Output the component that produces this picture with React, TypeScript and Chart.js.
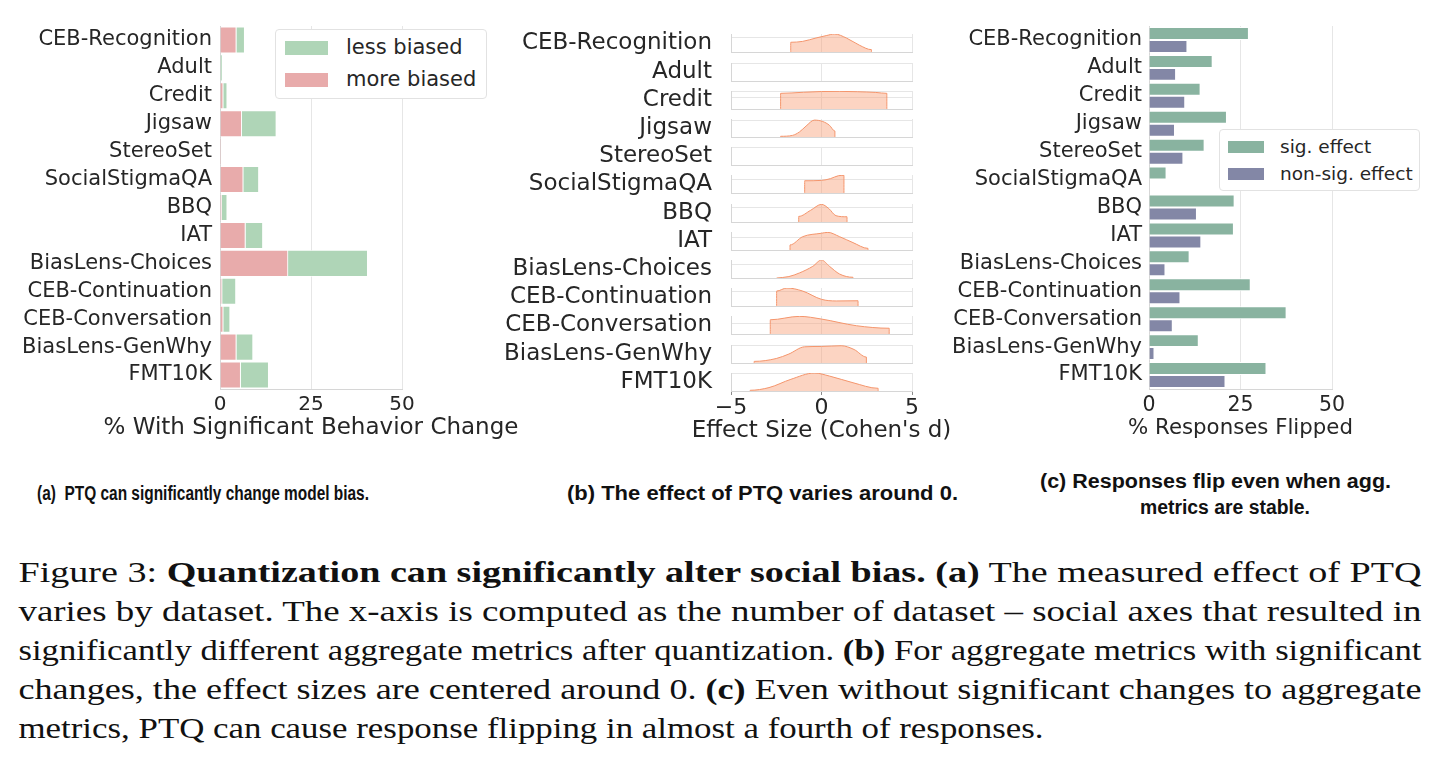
import React, { useEffect, useRef } from "react";
import { Chart, registerables } from "chart.js";

Chart.register(...registerables);

// ---------- data ----------
const datasetNames = [
  "CEB-Recognition",
  "Adult",
  "Credit",
  "Jigsaw",
  "StereoSet",
  "SocialStigmaQA",
  "BBQ",
  "IAT",
  "BiasLens-Choices",
  "CEB-Continuation",
  "CEB-Conversation",
  "BiasLens-GenWhy",
  "FMT10K",
];

// (a) % of dataset – social axes with a significant behaviour change
const moreBiased = [4.5, 0, 0.9, 6.0, 0.4, 6.4, 0.55, 7.0, 18.7, 0.6, 0.9, 4.5, 5.7];
const lessBiased = [2.3, 0.7, 1.1, 9.5, 0, 4.3, 1.45, 4.8, 21.9, 3.8, 1.9, 4.6, 7.7];

// (c) % responses flipped
const sigEffect = [27.3, 17.4, 14.1, 21.3, 15.2, 4.8, 23.4, 23.2, 11.1, 27.8, 37.6, 13.6, 32.1];
const nonSigEffect = [10.5, 7.4, 9.9, 7.1, 9.4, 0, 13.1, 14.3, 4.5, 8.6, 6.5, 1.5, 20.9];

// (b) effect-size densities: [Cohen's d, density relative to the row's axis]
const ridgeCEBRecognition = [[-1.7, 0], [-1.7, 0.54], [-1.04, 0.59], [-0.3, 0.78], [0.26, 0.91], [0.72, 1.0], [1.37, 0.78], [2.11, 0.37], [2.76, 0.13], [2.76, 0]];
const ridgeAdult: number[][] = [];
const ridgeCredit = [[-2.26, 0], [-2.26, 0.87], [-1.0, 0.93], [0, 0.97], [1.0, 0.98], [2.0, 0.96], [3.0, 0.92], [3.61, 0.87], [3.61, 0]];
const ridgeJigsaw = [[-2.26, 0], [-2.26, 0.04], [-1.6, 0.09], [-1.22, 0.28], [-0.85, 0.61], [-0.39, 0.94], [0.07, 0.86], [0.44, 0.65], [0.74, 0.33], [0.74, 0]];
const ridgeStereoSet: number[][] = [];
const ridgeSocialStigmaQA = [[-0.93, 0], [-0.93, 0.68], [0, 0.7], [0.5, 0.8], [0.93, 0.96], [1.24, 0.98], [1.24, 0]];
const ridgeBBQ = [[-1.26, 0], [-1.26, 0.31], [-0.6, 0.65], [0, 0.98], [0.4, 0.75], [0.8, 0.35], [1.41, 0.29], [1.41, 0]];
const ridgeIAT = [[-1.74, 0], [-1.74, 0.28], [-1.04, 0.74], [0, 0.93], [0.35, 0.98], [1.0, 0.74], [1.74, 0.41], [2.57, 0.09], [2.57, 0]];
const ridgeBiasLensChoices = [[-2.48, 0], [-1.8, 0.08], [-1.22, 0.28], [-0.48, 0.65], [0, 1.0], [0.44, 0.65], [1.0, 0.22], [1.74, 0.04], [1.74, 0]];
const ridgeCEBContinuation = [[-2.48, 0], [-2.48, 0.83], [-1.91, 1.0], [-1.04, 0.83], [0, 0.37], [0.81, 0.28], [2.02, 0.29], [2.02, 0]];
const ridgeCEBConversation = [[-2.83, 0], [-2.83, 0.79], [-1.22, 0.98], [0, 0.83], [1.93, 0.46], [3.74, 0.32], [3.74, 0]];
const ridgeBiasLensGenWhy = [[-3.72, 0], [-3.72, 0.09], [-2.5, 0.25], [-1.8, 0.5], [-0.94, 0.9], [0, 0.92], [1.09, 0.96], [1.8, 0.75], [2.48, 0.33], [2.48, 0]];
const ridgeFMT10K = [[-3.94, 0], [-3.94, 0.04], [-2.9, 0.19], [-1.69, 0.65], [-0.39, 1.0], [0.44, 0.83], [1.74, 0.46], [3.13, 0.15], [3.13, 0]];

const ridgeCurves = [
  ridgeCEBRecognition, ridgeAdult, ridgeCredit, ridgeJigsaw, ridgeStereoSet,
  ridgeSocialStigmaQA, ridgeBBQ, ridgeIAT, ridgeBiasLensChoices,
  ridgeCEBContinuation, ridgeCEBConversation, ridgeBiasLensGenWhy, ridgeFMT10K,
];
const ridgeGridTicks = [
  [0, 0.83], [0, 1], [0, 0.63, 1], [0, 0.92], [0, 1], [0, 0.76], [0, 0.78],
  [0, 0.7], [0, 0.76], [0, 0.78], [0, 0.56], [0, 0.96], [0, 0.97],
];

const percentTicks = [0, 25, 50];
const effectTicks = [-5, 0, 5];

const legendA = ["less biased", "more biased"];
const legendC = ["sig. effect", "non-sig. effect"];

// ---------- styles ----------
const INK = "#262626";
const SANS = "'DejaVu Sans', sans-serif";
const GRID = "#e6e6e6";
const SPINE = "#d6d6d6";
const RED = "#e8abab";
const GREEN_A = "#afd5b7";
const GREEN_C = "#89b3a0";
const PURPLE_C = "#8387a6";
const RIDGE_FILL = "rgba(248, 160, 120, 0.45)";
const RIDGE_LINE = "#f4956c";

// Axis caption drawn centred under the plot area, free to run past the axis ends.
const axisTitlePlugin = {
  id: "axisTitle",
  afterDraw(chart: any, _args: any, opts: any) {
    if (!opts || !opts.text) return;
    const { ctx, chartArea } = chart;
    ctx.save();
    ctx.font = `${opts.size}px ${SANS}`;
    ctx.fillStyle = INK;
    ctx.textAlign = "center";
    ctx.textBaseline = "middle";
    ctx.fillText(opts.text, (chartArea.left + chartArea.right) / 2, opts.y);
    ctx.restore();
  },
};

// ---------- chart canvas ----------
type Box = { left: number; top: number; width: number; height: number };

function ChartBox({ box, make }: { box: Box; make: () => any }) {
  const ref = useRef<HTMLCanvasElement | null>(null);
  useEffect(() => {
    if (!ref.current) return;
    const chart = new Chart(ref.current, make());
    return () => chart.destroy();
  }, []);
  return (
    <canvas
      ref={ref}
      width={box.width}
      height={box.height}
      style={{ position: "absolute", left: box.left, top: box.top, width: box.width, height: box.height }}
    />
  );
}

const hidden = { legend: { display: false }, tooltip: { enabled: false } };

function percentAxis(tickSize: number, tickPad: number) {
  return {
    type: "linear",
    min: 0,
    max: 50,
    afterBuildTicks: (s: any) => {
      s.ticks = percentTicks.map((v) => ({ value: v }));
    },
    ticks: { font: { family: SANS, size: tickSize }, color: INK, padding: tickPad, callback: (v: any) => String(v) },
    grid: { color: GRID, drawTicks: false },
    border: { color: SPINE },
    afterFit: (s: any) => {
      s.height = 60;
    },
  };
}

function categoryAxis(width: number, size: number, pad: number, stacked: boolean) {
  return {
    type: "category",
    stacked,
    ticks: { font: { family: SANS, size }, color: INK, padding: pad, autoSkip: false },
    grid: { display: false, drawTicks: false },
    border: { color: SPINE },
    afterFit: (s: any) => {
      s.width = width;
    },
  };
}

function configA() {
  return {
    type: "bar",
    data: {
      labels: datasetNames,
      datasets: [
        { label: "more biased", data: moreBiased, backgroundColor: RED, borderColor: "#ffffff", borderWidth: 0.8 },
        { label: "less biased", data: lessBiased, backgroundColor: GREEN_A, borderColor: "#ffffff", borderWidth: 0.8 },
      ],
    },
    plugins: [axisTitlePlugin],
    options: {
      animation: false,
      responsive: false,
      indexAxis: "y",
      layout: { padding: { top: 26, right: 138, left: 0, bottom: 0 } },
      plugins: { ...hidden, axisTitle: { text: "% With Significant Behavior Change", size: 23, y: 428 } },
      datasets: { bar: { barPercentage: 1, categoryPercentage: 0.955 } },
      scales: {
        x: { ...percentAxis(20, 4), stacked: true },
        y: categoryAxis(220, 21, 8, true),
      },
    },
  };
}

function configC() {
  return {
    type: "bar",
    data: {
      labels: datasetNames,
      datasets: [
        { label: "sig. effect", data: sigEffect, backgroundColor: GREEN_C, borderColor: "#ffffff", borderWidth: 1 },
        { label: "non-sig. effect", data: nonSigEffect, backgroundColor: PURPLE_C, borderColor: "#ffffff", borderWidth: 1 },
      ],
    },
    plugins: [axisTitlePlugin],
    options: {
      animation: false,
      responsive: false,
      indexAxis: "y",
      layout: { padding: { top: 26, right: 48, left: 0, bottom: 0 } },
      plugins: { ...hidden, axisTitle: { text: "% Responses Flipped", size: 21.3, y: 428 } },
      datasets: { bar: { barPercentage: 1, categoryPercentage: 0.93 } },
      scales: {
        x: percentAxis(20.5, 4),
        y: categoryAxis(209, 21, 7, false),
      },
    },
  };
}

const RIDGE_PAD = 14;
const RIDGE_H = 18;
const RIDGE_AXIS_H = 55;

function ridgeConfig(i: number, showAxis: boolean, titleY: number) {
  const pts = ridgeCurves[i].map(([x, y]) => ({ x, y }));
  return {
    type: "line",
    data: {
      datasets: [
        {
          data: pts,
          borderColor: RIDGE_LINE,
          backgroundColor: RIDGE_FILL,
          borderWidth: 1,
          fill: "origin",
          pointRadius: 0,
          cubicInterpolationMode: "monotone",
        },
      ],
    },
    plugins: [axisTitlePlugin],
    options: {
      animation: false,
      responsive: false,
      layout: { padding: { top: RIDGE_PAD, right: showAxis ? 48 : 8, bottom: showAxis ? 0 : RIDGE_PAD, left: 0 } },
      plugins: {
        ...hidden,
        axisTitle: showAxis ? { text: "Effect Size (Cohen's d)", size: 23, y: titleY } : {},
      },
      scales: {
        x: {
          type: "linear",
          min: -5,
          max: 5,
          afterBuildTicks: (s: any) => {
            s.ticks = effectTicks.map((v) => ({ value: v }));
          },
          ticks: {
            display: showAxis,
            font: { family: SANS, size: 22 },
            color: INK,
            padding: 0,
            callback: (v: any) => (Number(v) < 0 ? "\u2212" + Math.abs(Number(v)) : String(v)),
          },
          grid: { color: GRID, drawTicks: showAxis, tickLength: 4, tickColor: "#8a8a8a" },
          border: { color: SPINE },
          afterFit: (s: any) => {
            s.height = showAxis ? RIDGE_AXIS_H : 0;
          },
        },
        y: {
          type: "linear",
          min: 0,
          max: 1,
          position: "left",
          weight: 0,
          afterBuildTicks: (s: any) => {
            s.ticks = ridgeGridTicks[i].map((v) => ({ value: v }));
          },
          ticks: { display: false },
          grid: { color: GRID, drawTicks: false },
          border: { color: SPINE },
          afterFit: (s: any) => {
            s.width = 0;
            s.paddingTop = 0;
            s.paddingBottom = 0;
          },
        },
        yName: {
          type: "category",
          labels: [datasetNames[i]],
          position: "left",
          weight: 1,
          offset: true,
          ticks: { font: { family: SANS, size: 23 }, color: INK, padding: 19, autoSkip: false },
          grid: { display: false, drawTicks: false },
          border: { display: false },
          afterFit: (s: any) => {
            s.width = 251;
            s.paddingTop = 0;
            s.paddingBottom = 0;
          },
        },
      },
    },
  };
}

// ---------- legends ----------
function Legend({
  box, labels, colors, patchLeft, patchW, patchH, rowCenters, textLeft, fontSize,
}: {
  box: Box; labels: string[]; colors: string[]; patchLeft: number; patchW: number; patchH: number;
  rowCenters: number[]; textLeft: number; fontSize: number;
}) {
  return (
    <div
      style={{
        position: "absolute", left: box.left, top: box.top, width: box.width, height: box.height,
        boxSizing: "border-box", border: "1px solid #e2e2e2", borderRadius: 4, background: "#ffffff",
      }}
    >
      {labels.map((lab, k) => (
        <React.Fragment key={lab}>
          <div
            style={{
              position: "absolute", left: patchLeft, top: rowCenters[k] - patchH / 2, width: patchW, height: patchH,
              background: colors[k],
            }}
          />
          <div
            style={{
              position: "absolute", left: textLeft, top: rowCenters[k] - fontSize * 0.6, height: fontSize * 1.2,
              lineHeight: `${fontSize * 1.2}px`, fontFamily: SANS, fontSize, color: INK, whiteSpace: "nowrap",
            }}
          >
            {lab}
          </div>
        </React.Fragment>
      ))}
    </div>
  );
}

// ---------- captions ----------
function Captions() {
  const sub = { fontFamily: "'Liberation Sans', Arial, sans-serif", fontWeight: 700, fontSize: 20, fill: "#111" };
  const serif = { fontFamily: "'Liberation Serif', 'Times New Roman', serif", fontSize: 30, fill: "#111" };
  const B = (t: string) => <tspan fontWeight={700}>{t}</tspan>;
  return (
    <svg width={1439} height={768} style={{ position: "absolute", left: 0, top: 0 }}>
      <text x={37} y={500} textLength={332} lengthAdjust="spacingAndGlyphs" style={{ ...sub, whiteSpace: "pre" }}>
        {"(a)  PTQ can significantly change model bias."}
      </text>
      <text x={567} y={500} textLength={391} lengthAdjust="spacingAndGlyphs" style={sub}>
        (b) The effect of PTQ varies around 0.
      </text>
      <text x={1040} y={488} textLength={351} lengthAdjust="spacingAndGlyphs" style={sub}>
        (c) Responses flip even when agg.
      </text>
      <text x={1140} y={514} textLength={170} lengthAdjust="spacingAndGlyphs" style={sub}>
        metrics are stable.
      </text>

      <text x={18.5} y={582} textLength={1403} lengthAdjust="spacingAndGlyphs" style={{ ...serif, whiteSpace: "pre" }}>
        {"Figure 3: "}
        {B("Quantization can significantly alter social bias.")}
        {" "}
        {B("(a)")}
        {" The measured effect of PTQ"}
      </text>
      <text x={18.5} y={621} textLength={1403} lengthAdjust="spacingAndGlyphs" style={serif}>
        varies by dataset. The x-axis is computed as the number of dataset – social axes that resulted in
      </text>
      <text x={18.5} y={660} textLength={1403} lengthAdjust="spacingAndGlyphs" style={{ ...serif, whiteSpace: "pre" }}>
        {"significantly different aggregate metrics after quantization. "}
        {B("(b)")}
        {" For aggregate metrics with significant"}
      </text>
      <text x={18.5} y={699} textLength={1403} lengthAdjust="spacingAndGlyphs" style={{ ...serif, whiteSpace: "pre" }}>
        {"changes, the effect sizes are centered around 0. "}
        {B("(c)")}
        {" Even without significant changes to aggregate"}
      </text>
      <text x={18.5} y={738} textLength={1025} lengthAdjust="spacingAndGlyphs" style={serif}>
        metrics, PTQ can cause response flipping in almost a fourth of responses.
      </text>
    </svg>
  );
}

// ---------- page ----------
const ROW_PITCH = 28.2;
const FIRST_ROW_BOTTOM = 52.3;
const EFFECT_TITLE_Y = 430.7;

export default function App() {
  return (
    <div style={{ position: "absolute", left: 0, top: 0, width: 1439, height: 768, background: "#ffffff", overflow: "hidden" }}>
      <Captions />

      <ChartBox box={{ left: 0, top: 0, width: 540, height: 449 }} make={configA} />
      <Legend
        box={{ left: 275, top: 29, width: 212, height: 70 }}
        labels={legendA}
        colors={[GREEN_A, RED]}
        patchLeft={9}
        patchW={43}
        patchH={14.5}
        rowCenters={[18, 50]}
        textLeft={70}
        fontSize={21}
      />

      {datasetNames.map((name, i) => {
        const bottom = Math.round(FIRST_ROW_BOTTOM + ROW_PITCH * i);
        const last = i === datasetNames.length - 1;
        const top = bottom - RIDGE_H - RIDGE_PAD;
        const box = {
          left: 480,
          top,
          width: last ? 480 : 440,
          height: last ? RIDGE_PAD + RIDGE_H + RIDGE_AXIS_H : RIDGE_PAD * 2 + RIDGE_H,
        };
        return <ChartBox key={name} box={box} make={() => ridgeConfig(i, last, EFFECT_TITLE_Y - top)} />;
      })}

      <ChartBox box={{ left: 940, top: 0, width: 440, height: 449 }} make={configC} />
      <Legend
        box={{ left: 1219, top: 129, width: 201, height: 62 }}
        labels={legendC}
        colors={[GREEN_C, PURPLE_C]}
        patchLeft={8}
        patchW={36}
        patchH={12.5}
        rowCenters={[17, 44]}
        textLeft={60}
        fontSize={18.5}
      />
    </div>
  );
}
